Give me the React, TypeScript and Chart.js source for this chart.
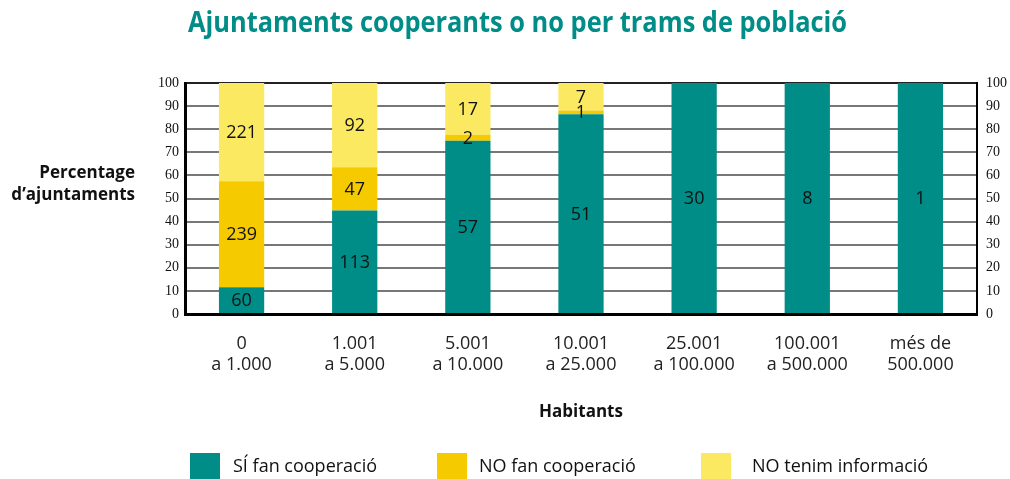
import React, { useEffect, useRef } from "react";
import { Chart, registerables } from "chart.js";

Chart.register(...registerables);

const titleText = "Ajuntaments cooperants o no per trams de població";
const yTitleLines = ["Percentage", "d’ajuntaments"];
const xTitleText = "Habitants";
const categories = [
  ["0", "a 1.000"],
  ["1.001", "a 5.000"],
  ["5.001", "a 10.000"],
  ["10.001", "a 25.000"],
  ["25.001", "a 100.000"],
  ["100.001", "a 500.000"],
  ["més de", "500.000"],
];
const seriesNames = ["SÍ fan cooperació", "NO fan cooperació", "NO tenim informació"];
const siCooperacio = [60, 113, 57, 51, 30, 8, 1];
const noCooperacio = [239, 47, 2, 1, 0, 0, 0];
const noInformacio = [221, 92, 17, 7, 0, 0, 0];
const seriesColors = ["#008C87", "#F5CB00", "#FBE962"];
const yMin = 0;
const yMax = 100;
const yStep = 10;

const series = [siCooperacio, noCooperacio, noInformacio];
const totals = categories.map((_, j) => series.reduce((s, arr) => s + arr[j], 0));
const percents = series.map((arr) => arr.map((v, j) => (v / totals[j]) * 100));

const SANS = "'Open Sans', 'Noto Sans', sans-serif";
const SERIF = "'Liberation Serif', 'DejaVu Serif', serif";

const decorPlugin = {
  id: "decor",
  afterDatasetsDraw(chart: any) {
    const ctx = chart.ctx;
    ctx.save();
    ctx.fillStyle = "#111";
    ctx.font = `18px ${SANS}`;
    ctx.textAlign = "center";
    ctx.textBaseline = "middle";
    series.forEach((arr, i) => {
      const meta = chart.getDatasetMeta(i);
      meta.data.forEach((bar: any, j: number) => {
        const v = arr[j];
        if (!v) return;
        const p = bar.getProps(["x", "y", "base"], true);
        ctx.fillText(String(v), p.x, (p.y + p.base) / 2 + 1);
      });
    });
    ctx.restore();
  },
  afterDraw(chart: any) {
    const ctx = chart.ctx;
    const area = chart.chartArea;
    ctx.save();
    // Title (condensed look)
    ctx.fillStyle = "#008C87";
    ctx.font = `bold 28px ${SANS}`;
    ctx.textBaseline = "alphabetic";
    ctx.textAlign = "left";
    const tw = ctx.measureText(titleText).width;
    const targetW = 659;
    const sx = targetW / tw;
    ctx.save();
    ctx.translate(188, 32);
    ctx.scale(sx, 1);
    ctx.fillText(titleText, 0, 0);
    ctx.restore();

    // Y title
    ctx.fillStyle = "#111";
    ctx.font = `bold 17px ${SANS}`;
    ctx.textAlign = "right";
    ctx.textBaseline = "middle";
    ctx.fillText(yTitleLines[0], 135, 173);
    ctx.fillText(yTitleLines[1], 135, 195);

    // X title
    ctx.textAlign = "center";
    ctx.fillText(xTitleText, (area.left + area.right) / 2, 412);

    // Legend
    const boxX = [190, 437, 701];
    const textX = [233, 479, 752];
    ctx.font = `18px ${SANS}`;
    ctx.textAlign = "left";
    seriesNames.forEach((name, i) => {
      ctx.fillStyle = seriesColors[i];
      ctx.fillRect(boxX[i], 453, 30, 26);
      ctx.fillStyle = "#111";
      ctx.fillText(name, textX[i], 467);
    });
    ctx.restore();
  },
};

export default function App() {
  const ref = useRef<HTMLCanvasElement | null>(null);
  useEffect(() => {
    if (!ref.current) return;
    const chart = new Chart(ref.current, {
      type: "bar",
      data: {
        labels: categories as any,
        datasets: seriesNames.map((name, i) => ({
          label: name,
          data: percents[i],
          backgroundColor: seriesColors[i],
          borderWidth: 0,
          stack: "s",
          yAxisID: "y",
          barPercentage: 0.5,
          categoryPercentage: 0.8,
        })),
      },
      options: {
        responsive: false,
        animation: false,
        layout: { padding: { top: 83, left: 0, right: 0, bottom: 0 } },
        plugins: {
          legend: { display: false },
          title: { display: false },
          tooltip: { enabled: false },
        },
        scales: {
          x: {
            stacked: true,
            grid: { display: false },
            border: { display: true, color: "#000", width: 3 },
            ticks: {
              font: { family: SANS, size: 18, lineHeight: 1.17 },
              color: "#222",
              padding: 11,
              maxRotation: 0,
              autoSkip: false,
            },
            afterFit: (s: any) => {
              s.height = 165;
            },
          },
          y: {
            stacked: true,
            position: "left",
            min: yMin,
            max: yMax,
            ticks: {
              stepSize: yStep,
              font: { family: SERIF, size: 14 },
              color: "#111",
              padding: 6,
            },
            grid: {
              color: (c: any) => (c.tick && c.tick.value === yMax ? "#222" : "#777"),
              lineWidth: 2,
              drawTicks: false,
            },
            border: { color: "#000", width: 3 },
            afterFit: (s: any) => {
              s.width = 185;
            },
          },
          y1: {
            position: "right",
            min: yMin,
            max: yMax,
            ticks: {
              stepSize: yStep,
              font: { family: SERIF, size: 14 },
              color: "#111",
              padding: 9,
            },
            grid: { display: false, drawTicks: false },
            border: { color: "#000", width: 2 },
            afterFit: (s: any) => {
              s.width = 33;
            },
          },
        },
      },
      plugins: [decorPlugin],
    });
    return () => chart.destroy();
  }, []);
  return (
    <div style={{ position: "absolute", left: 0, top: 0, width: 1010, height: 479, background: "#fff" }}>
      <canvas ref={ref} width={1010} height={479} style={{ display: "block" }} />
    </div>
  );
}
